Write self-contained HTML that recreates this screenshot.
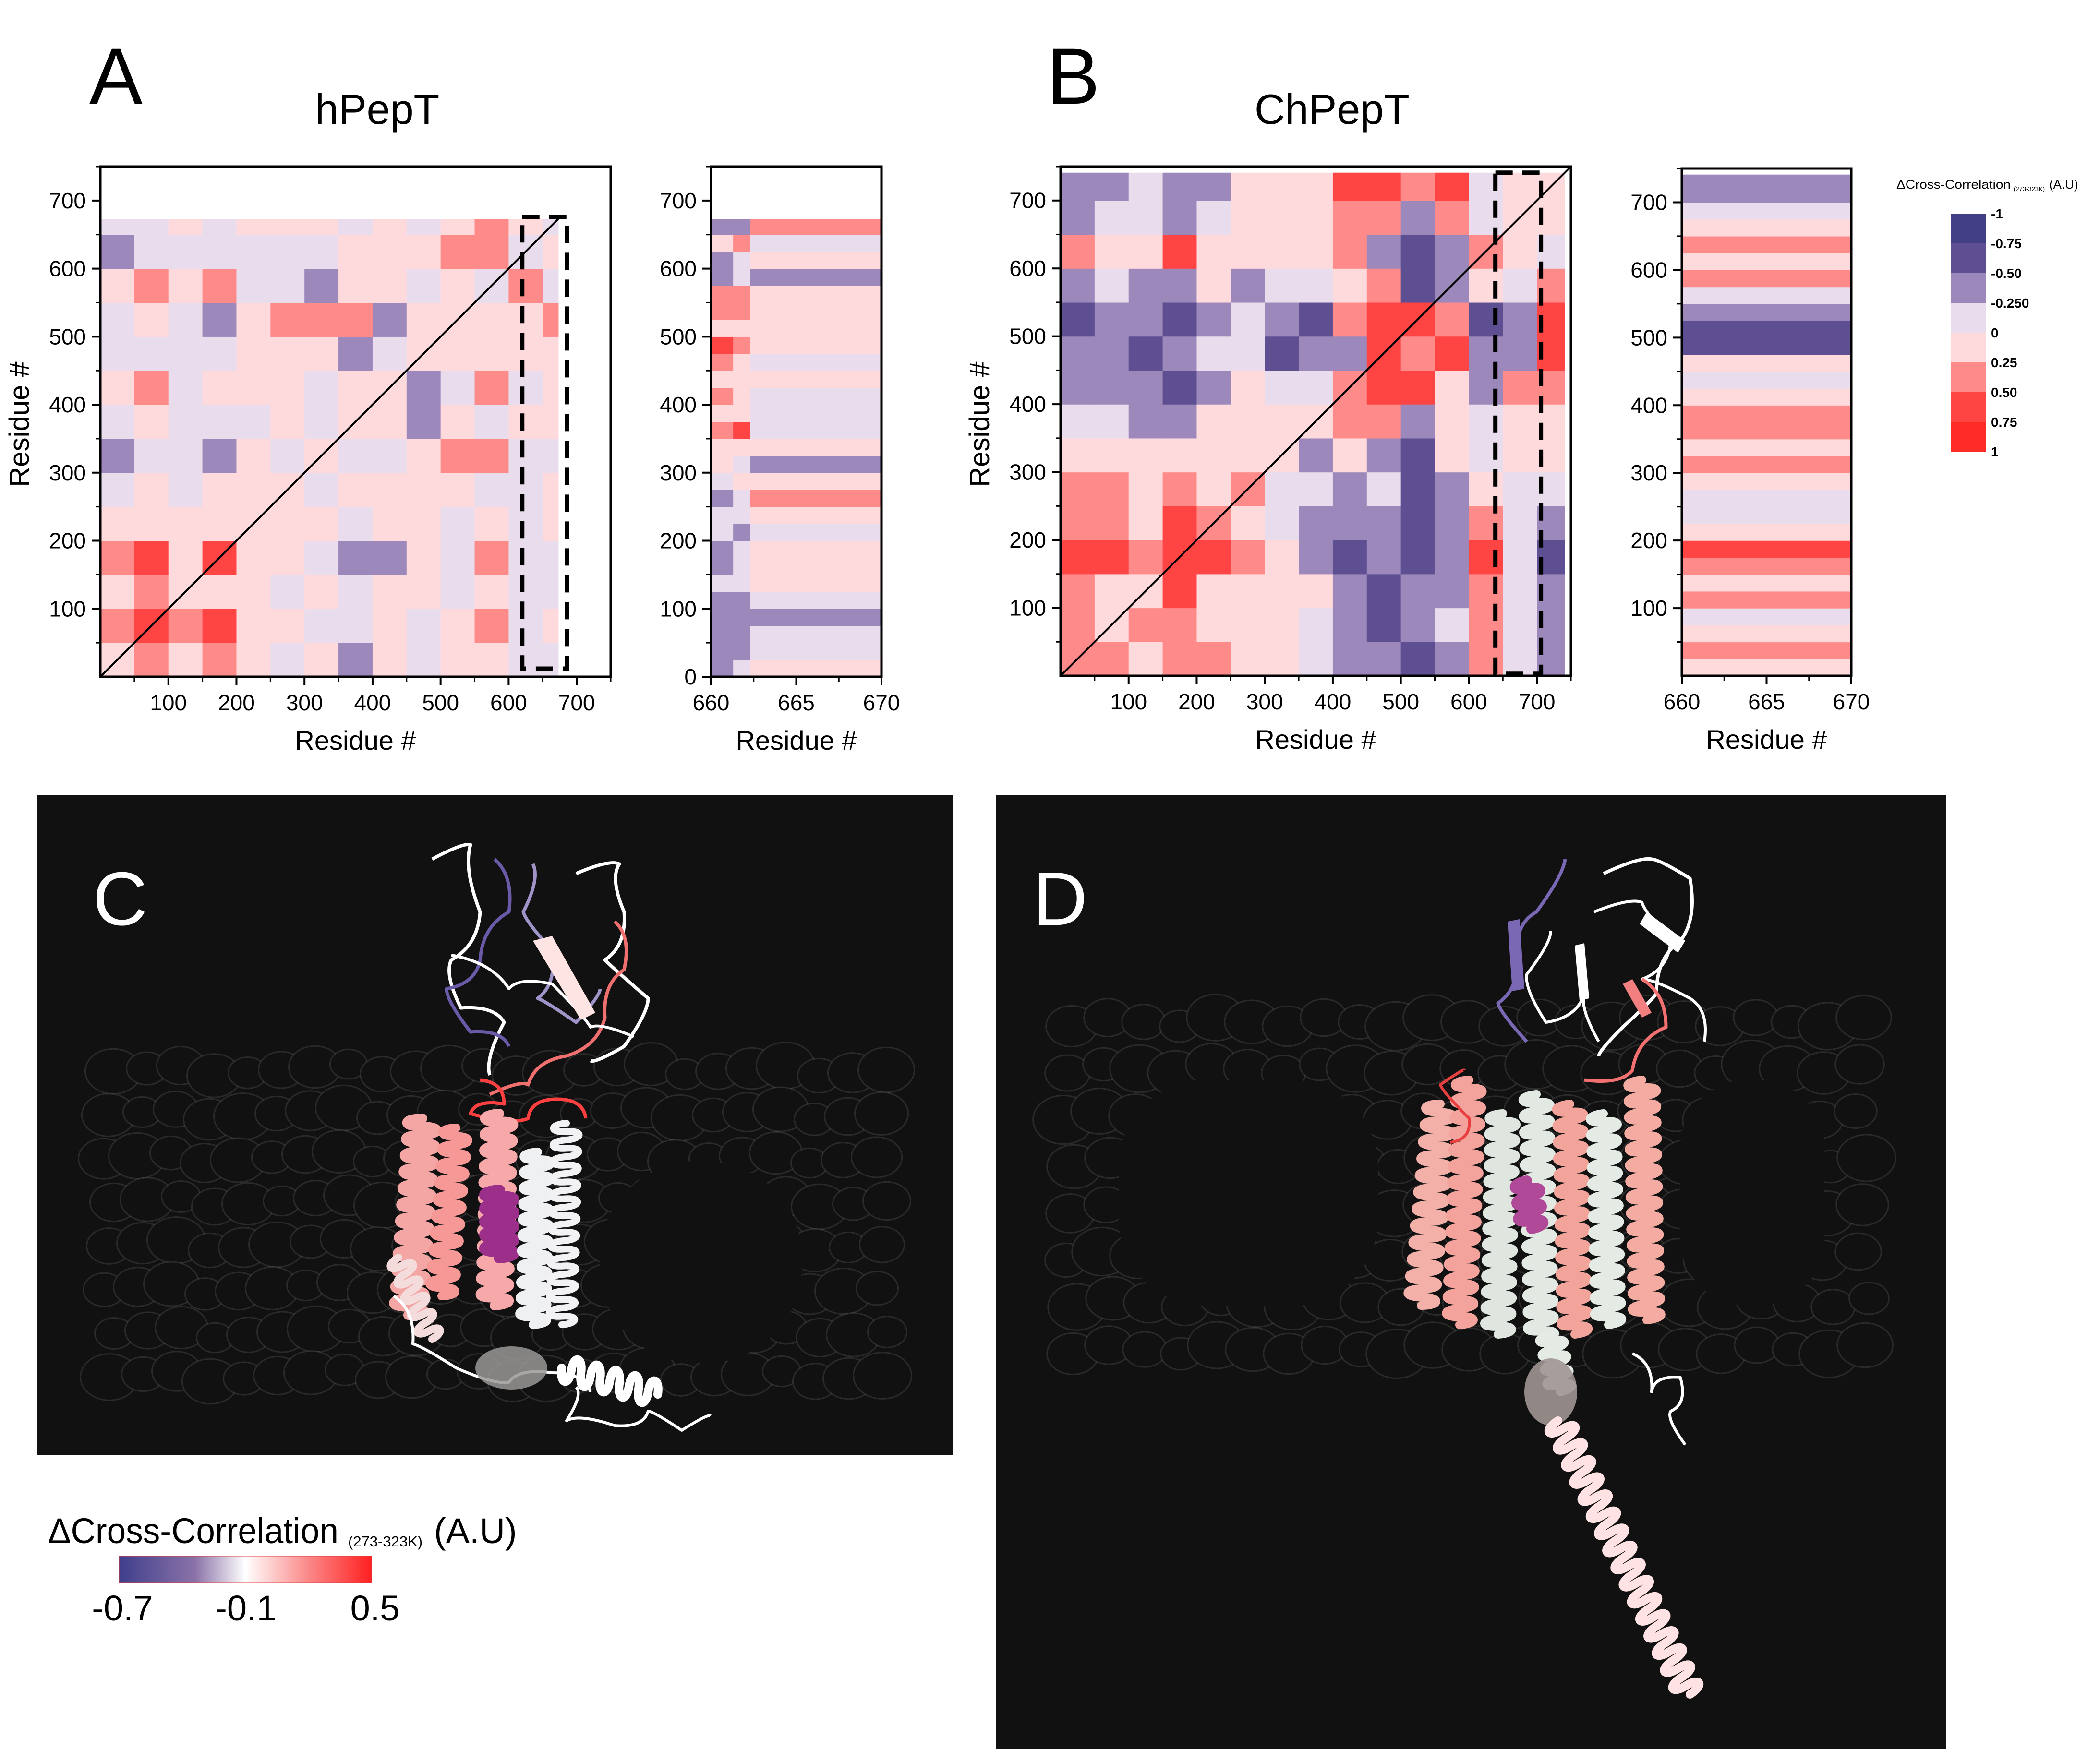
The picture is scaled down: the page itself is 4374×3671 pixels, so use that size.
<!DOCTYPE html>
<html><head><meta charset="utf-8"><style>
html,body{margin:0;padding:0;background:#fff}
svg{display:block;font-family:"Liberation Sans",Arial,sans-serif}
</style></head><body>
<svg id="fig" xmlns="http://www.w3.org/2000/svg" width="4374" height="3671" viewBox="0 0 4374 3671">
<rect x="0" y="0" width="4374" height="3671" fill="#ffffff"/>
<text x="186" y="216" font-size="166">A</text>
<text x="656" y="258" font-size="88">hPepT</text>
<text x="2180" y="216" font-size="166">B</text>
<text x="2613" y="258" font-size="88">ChPepT</text>
<g id="charts"></g>
<g id="legendTop">
<text x="3950" y="393" font-size="26" textLength="238" lengthAdjust="spacingAndGlyphs">ΔCross-Correlation</text>
<text x="4194" y="398" font-size="13">(273-323K)</text>
<text x="4268" y="393" font-size="26">(A.U)</text>
</g>
<g id="mol">
<rect x="77" y="1656" width="1908" height="1375" fill="#111111"/>
<rect x="2074" y="1656" width="1979" height="1987" fill="#111111"/>
<g id="molC"></g>
<g id="molD"></g>
<text x="193" y="1927" font-size="158" fill="#ffffff">C</text>
<text x="2151" y="1927" font-size="158" fill="#ffffff">D</text>
</g>
<defs>
<linearGradient id="grad" x1="0" x2="1" y1="0" y2="0">
<stop offset="0" stop-color="#3f3f8c"/><stop offset="0.3" stop-color="#8a72a8"/><stop offset="0.5" stop-color="#ffffff"/><stop offset="0.75" stop-color="#fb8888"/><stop offset="1" stop-color="#ff2020"/>
</linearGradient>
</defs>
<g>
<text x="100" y="3215" font-size="74" textLength="605" lengthAdjust="spacingAndGlyphs">ΔCross-Correlation</text>
<text x="725" y="3222" font-size="31">(273-323K)</text>
<text x="904" y="3215" font-size="74">(A.U)</text>
<rect x="248" y="3242" width="526" height="56" fill="url(#grad)" stroke="#e04040" stroke-width="1"/>
<text x="255" y="3376" font-size="74" text-anchor="middle">-0.7</text>
<text x="512" y="3376" font-size="74" text-anchor="middle">-0.1</text>
<text x="781" y="3376" font-size="74" text-anchor="middle">0.5</text>
</g>
</svg>
<script>
// ---- data ----
const binSize = 50;
const hMax = 673;
const cMax = 741;
const hMatrix = [
[0.1,0.3,0.1,0.3,0.1,-0.1,0.1,-0.35,0.1,-0.1,0.1,0.1,-0.1,-0.1],
[0.3,0.6,0.3,0.6,0.1,0.1,-0.1,-0.1,0.1,-0.1,0.1,0.3,-0.1,0.1],
[0.1,0.3,0.1,0.1,0.1,-0.1,0.1,-0.1,0.1,0.1,-0.1,0.1,-0.1,-0.1],
[0.3,0.6,0.1,0.6,0.1,0.1,-0.1,-0.35,-0.35,0.1,-0.1,0.3,-0.1,-0.1],
[0.1,0.1,0.1,0.1,0.1,0.1,0.1,-0.1,0.1,0.1,-0.1,0.1,-0.1,0.1],
[-0.1,0.1,-0.1,0.1,0.1,0.1,-0.1,0.1,0.1,0.1,0.1,-0.1,-0.1,0.1],
[-0.35,-0.1,-0.1,-0.35,0.1,-0.1,0.1,-0.1,-0.1,0.1,0.3,0.3,-0.1,-0.1],
[-0.1,0.1,-0.1,-0.1,-0.1,0.1,-0.1,0.1,0.1,-0.35,0.1,-0.1,0.1,0.1],
[0.1,0.3,-0.1,0.1,0.1,0.1,-0.1,0.1,0.1,-0.35,-0.1,0.3,-0.1,0.1],
[-0.1,-0.1,-0.1,-0.1,0.1,0.1,0.1,-0.35,-0.1,0.1,0.1,0.1,0.1,0.1],
[-0.1,0.1,-0.1,-0.35,0.1,0.3,0.3,0.3,-0.35,0.1,0.1,0.1,0.1,0.3],
[0.1,0.3,0.1,0.3,-0.1,-0.1,-0.35,0.1,0.1,-0.1,0.1,-0.1,0.3,-0.1],
[-0.35,-0.1,-0.1,-0.1,-0.1,-0.1,-0.1,0.1,0.1,0.1,0.3,0.3,-0.1,0.1],
[-0.1,-0.1,0.1,-0.1,0.1,0.1,0.1,-0.1,0.1,-0.1,0.1,0.3,0.1,-0.1]
];
const cMatrix = [
[0.3,0.3,0.1,0.3,0.3,0.1,0.1,-0.1,-0.35,-0.35,-0.6,-0.35,0.3,-0.1,-0.35],
[0.3,0.1,0.3,0.3,0.1,0.1,0.1,-0.1,-0.35,-0.6,-0.35,-0.1,0.3,-0.1,-0.35],
[0.3,0.1,0.1,0.6,0.1,0.1,0.1,0.1,-0.35,-0.6,-0.35,-0.35,0.3,-0.1,-0.35],
[0.6,0.6,0.3,0.6,0.6,0.3,0.1,-0.35,-0.6,-0.35,-0.6,-0.35,0.6,-0.1,-0.6],
[0.3,0.3,0.1,0.6,0.3,0.1,-0.1,-0.35,-0.35,-0.35,-0.6,-0.35,0.3,-0.1,-0.35],
[0.3,0.3,0.1,0.3,0.1,0.3,-0.1,-0.1,-0.35,-0.1,-0.6,-0.35,0.1,-0.1,-0.1],
[0.1,0.1,0.1,0.1,0.1,0.1,0.1,-0.35,0.1,-0.35,-0.6,0.1,-0.1,0.1,0.1],
[-0.1,-0.1,-0.35,-0.35,0.1,0.1,0.1,0.1,0.3,0.3,-0.35,0.1,-0.1,0.1,0.1],
[-0.35,-0.35,-0.35,-0.6,-0.35,0.1,-0.1,-0.1,0.3,0.6,0.6,0.1,-0.35,0.3,0.3],
[-0.35,-0.35,-0.6,-0.35,-0.1,-0.1,-0.6,-0.35,-0.35,0.6,0.3,0.6,-0.35,-0.35,0.6],
[-0.6,-0.35,-0.35,-0.6,-0.35,-0.1,-0.35,-0.6,0.3,0.6,0.6,0.3,-0.6,-0.35,0.6],
[-0.35,-0.1,-0.35,-0.35,0.1,-0.35,-0.1,-0.1,0.1,0.3,-0.6,-0.35,0.1,-0.1,0.3],
[0.3,0.1,0.1,0.6,0.1,0.1,0.1,0.1,0.3,-0.35,-0.6,-0.35,0.3,0.1,-0.1],
[-0.35,-0.1,-0.1,-0.35,-0.1,0.1,0.1,0.1,0.3,0.3,-0.35,0.3,-0.1,0.1,0.1],
[-0.35,-0.35,-0.1,-0.35,-0.35,0.1,0.1,0.1,0.6,0.6,0.3,0.6,-0.1,0.1,0.1]
];
const sideBin = 25;
const hSideCols = [660, 661.3, 662.3, 670];
const hSide0 = [-0.35,-0.35,-0.35,-0.35,-0.35,-0.1,-0.35,-0.35,-0.1,-0.1,-0.35,-0.1,0.1,0.1,0.3,0.1,0.3,0.1,0.3,0.6,0.1,0.3,0.3,-0.35,-0.35,0.1,-0.35];
const hSide1 = [-0.1,-0.35,-0.35,-0.35,-0.35,-0.1,-0.1,-0.1,-0.35,-0.1,-0.1,0.1,-0.1,0.1,0.6,0.1,0.1,0.1,0.1,0.3,0.1,0.3,0.3,-0.1,-0.1,0.3,-0.35];
const hSide2 = [0.1,-0.1,-0.1,-0.35,-0.1,0.1,0.1,0.1,-0.1,0.1,0.3,0.1,-0.35,0.1,-0.1,-0.1,-0.1,0.1,-0.1,0.1,0.1,0.1,0.1,-0.35,0.1,-0.1,0.3];
const cSide = [0.1,0.3,0.1,-0.1,0.3,0.1,0.3,0.6,0.1,-0.1,-0.1,0.1,0.3,0.1,0.3,0.3,0.1,-0.1,0.1,-0.6,-0.6,-0.35,-0.1,0.3,0.1,0.3,0.1,-0.1,-0.35,-0.35];
const mainTicks = [100,200,300,400,500,600,700];
const sideYTicks = [0,100,200,300,400,500,600,700];
const sideXTicks = [660,665,670];
const cbLabels = ["-1","-0.75","-0.50","-0.250","0","0.25","0.50","0.75","1"];
const cbColors = ["#433f86","#5d4f92","#9d88bb","#e9dcec","#ffdadd","#ff8a8a","#ff4444","#ff2b27"];
const hBox = [620, 686, 12, 676];
const cBox = [639, 706, 3, 741];

const NS = "http://www.w3.org/2000/svg";
function el(tag, attrs, parent){const e=document.createElementNS(NS,tag);for(const k in attrs)e.setAttribute(k,attrs[k]);parent.appendChild(e);return e;}
function scale(p0,p1,d0,d1){return v=>p0+(v-d0)/(d1-d0)*(p1-p0);}
function col(v){
  if(v<=-0.75)return "#433f86"; if(v<=-0.5)return "#5d4f92"; if(v<=-0.25)return "#9d88bb";
  if(v<0)return "#e9dcec"; if(v<0.25)return "#ffdadd"; if(v<0.5)return "#ff8a8a"; if(v<0.75)return "#ff4444"; return "#ff2b27";
}
const charts = document.getElementById('charts');

function axes(g, X, Y, xd, yd, xt, yt, xminor, yminor, name){
  const x0=X(xd[0]), x1=X(xd[1]), y0=Y(yd[0]), y1=Y(yd[1]);
  const frame = el('rect',{x:x0,y:y1,width:x1-x0,height:y0-y1,fill:'none',stroke:'#000','stroke-width':5},g);
  
  
  xt.forEach(t=>{
    const l=el('line',{x1:X(t),x2:X(t),y1:y0,y2:y0+18,stroke:'#000','stroke-width':4},g);
    
    
    const tx=el('text',{x:X(t),y:y0+70,'font-size':46,'text-anchor':'middle'},g);
    tx.textContent=t;
    
    
  });
  xminor.forEach(t=>{
    const l=el('line',{x1:X(t),x2:X(t),y1:y0,y2:y0+10,stroke:'#000','stroke-width':3},g);
    
    
  });
  yt.forEach(t=>{
    const l=el('line',{x1:x0-18,x2:x0,y1:Y(t),y2:Y(t),stroke:'#000','stroke-width':4},g);
    
    
    const tx=el('text',{x:x0-30,y:Y(t)+16,'font-size':46,'text-anchor':'end'},g);
    tx.textContent=t;
    
    
  });
  yminor.forEach(t=>{
    const l=el('line',{x1:x0-10,x2:x0,y1:Y(t),y2:Y(t),stroke:'#000','stroke-width':3},g);
    
    
  });
  const xl=el('text',{x:(x0+x1)/2,y:y0+152,'font-size':56,'text-anchor':'middle'},g);
  xl.textContent='Residue #';
  
  
}
function ylabel(g,x,y,name){
  const t=el('text',{x:x,y:y,'font-size':58,'text-anchor':'middle',transform:`rotate(-90 ${x} ${y})`},g);
  t.textContent='Residue #';
  
  
}
function heat(g,X,Y,M,maxR,name){
  M.forEach((row,i)=>row.forEach((v,j)=>{
    const a=j*binSize,b=Math.min((j+1)*binSize,maxR),c=i*binSize,d=Math.min((i+1)*binSize,maxR);
    const r=el('rect',{x:X(a),y:Y(d),width:X(b)-X(a)+0.6,height:Y(c)-Y(d)+0.6,fill:col(v)},g);
    
    
  }));
}
function sideHeat(g,X,Y,cols,series,maxR,name){
  series.forEach((s,k)=>s.forEach((v,i)=>{
    const c=i*sideBin,d=Math.min((i+1)*sideBin,maxR);
    const r=el('rect',{x:X(cols[k]),y:Y(d),width:X(cols[k+1])-X(cols[k])+0.6,height:Y(c)-Y(d)+0.6,fill:col(v)},g);
    
    
  }));
}
const minorMain=[50,150,250,350,450,550,650,750];
const minorY=[50,150,250,350,450,550,650,750];

{
  const g=el('g',{},charts);
  
  
  const X=scale(209,1272,0,750), Y=scale(1410,347,0,750);
  heat(g,X,Y,hMatrix,hMax,'hpept');
  const dl=el('line',{x1:X(0),y1:Y(0),x2:X(hMax),y2:Y(hMax),stroke:'#000','stroke-width':4},g);
  
  
  const bx=el('rect',{x:X(hBox[0]),y:Y(hBox[3]),width:X(hBox[1])-X(hBox[0]),height:Y(hBox[2])-Y(hBox[3]),fill:'none',stroke:'#000','stroke-width':9,'stroke-dasharray':'36 20'},g);
  
  
  axes(g,X,Y,[0,750],[0,750],mainTicks,mainTicks,minorMain,minorY,'hpept');
  ylabel(g,60,884,'hpept');
}
{
  const g=el('g',{},charts);
  
  
  const X=scale(1481,1836,660,670), Y=scale(1410,347,0,750);
  sideHeat(g,X,Y,hSideCols,[hSide0,hSide1,hSide2],hMax,'hpept-side');
  axes(g,X,Y,[660,670],[0,750],sideXTicks,sideYTicks,[662.5,667.5],minorY,'hpept-side');
}
{
  const g=el('g',{},charts);
  
  
  const X=scale(2209,3272,0,750), Y=scale(1408,347,0,750);
  heat(g,X,Y,cMatrix,cMax,'chpept');
  const dl=el('line',{x1:X(0),y1:Y(0),x2:X(750),y2:Y(750),stroke:'#000','stroke-width':4},g);
  
  
  const bx=el('rect',{x:X(cBox[0]),y:Y(cBox[3]),width:X(cBox[1])-X(cBox[0]),height:Y(cBox[2])-Y(cBox[3]),fill:'none',stroke:'#000','stroke-width':9,'stroke-dasharray':'36 20'},g);
  
  
  axes(g,X,Y,[0,750],[0,750],mainTicks,mainTicks,minorMain,minorY,'chpept');
  ylabel(g,2060,884,'chpept');
}
{
  const g=el('g',{},charts);
  
  
  const X=scale(3503,3856,660,670), Y=scale(1408,351,0,750);
  sideHeat(g,X,Y,[660,670],[cSide],cMax,'chpept-side');
  axes(g,X,Y,[660,670],[0,750],sideXTicks,mainTicks,[662.5,667.5],minorY,'chpept-side');
}
{
  const g=document.getElementById('legendTop');
  const top=445, h=62;
  cbColors.forEach((c,i)=>{
    const r=el('rect',{x:4064,y:top+i*h,width:72,height:h+0.5,fill:c},g);
    
    
  });
  cbLabels.forEach((t,i)=>{
    const tx=el('text',{x:4147,y:top+i*h+10,'font-size':28,'font-weight':'bold'},g);
    tx.textContent=t;
    
    
  });
}

// ---- decorative molecular renders ----
function blobs(g,x0,x1,y0,y1,step){
  for(let x=x0;x<=x1;x+=step){
    for(let y=y0;y<=y1;y+=step*1.3){
      const r=step*0.55+((x*7+y*3)%23);
      const c=el('ellipse',{cx:x+((y*5)%31)-15,cy:y+((x*3)%27)-13,rx:r,ry:r*0.8,fill:'#111111',stroke:'rgba(220,220,220,0.13)','stroke-width':3},g);
      
      
    }
  }
}
function helix(g,xa,ya,xb,yb,w,turn,color,width){
  const n=Math.max(2,Math.round(Math.hypot(xb-xa,yb-ya)/turn));
  const dx=(xb-xa)/n, dy=(yb-ya)/n, L=Math.hypot(dx,dy), nx=-dy/L, ny=dx/L;
  let d=`M${xa} ${ya}`;
  for(let i=0;i<n;i++){
    const sx=xa+dx*i, sy=ya+dy*i;
    d+=` C${sx+nx*w+dx*0.1} ${sy+ny*w+dy*0.1} ${sx+nx*w+dx*0.6} ${sy+ny*w+dy*0.6} ${sx+dx*0.5} ${sy+dy*0.5}`;
    d+=` C${sx-nx*w+dx*0.4} ${sy-ny*w+dy*0.4} ${sx-nx*w+dx*0.9} ${sy-ny*w+dy*0.9} ${sx+dx} ${sy+dy}`;
  }
  const p=el('path',{d:d,fill:'none',stroke:color,'stroke-width':width,'stroke-linecap':'round'},g);
  
  
}
function loop(g,pts,color,width){
  let d=`M${pts[0][0]} ${pts[0][1]}`;
  for(let i=1;i<pts.length;i++){const [x,y]=pts[i],[px,py]=pts[i-1];d+=` Q${(px+x)/2+((i%2)?25:-25)} ${(py+y)/2+((i%3)?-20:20)} ${x} ${y}`;}
  const p=el('path',{d:d,fill:'none',stroke:color,'stroke-width':width,'stroke-linejoin':'round'},g);
  
  
}
{
  const g=document.getElementById('molC');
  blobs(g,230,1880,2230,2880,70);
  const mask=el('rect',{x:1250,y:2420,width:420,height:420,rx:200,fill:'#111'},g);
  
  
  loop(g,[[900,1790],[980,1760],[1000,1900],[940,2000],[960,2100],[1050,2130],[1020,2240]],'#ffffff',7);
  loop(g,[[1030,1790],[1060,1900],[1000,2000],[930,2060],[980,2150],[1060,2180]],'#6a5aa8',7);
  loop(g,[[1110,1800],[1090,1900],[1150,1980],[1120,2080],[1200,2130],[1250,2060]],'#a093c8',7);
  loop(g,[[1200,1820],[1290,1800],[1300,1900],[1260,2000],[1350,2080],[1300,2180],[1230,2210]],'#ffffff',7);
  loop(g,[[1280,1920],[1300,2020],[1260,2120],[1180,2200],[1100,2260],[1020,2280]],'#f07070',7);
  loop(g,[[940,1990],[1060,2060],[1150,2050],[1230,2140],[1320,2160]],'#ffffff',6);
  const arrow=el('path',{d:'M1110 1960 L1150 1950 L1240 2110 L1210 2125 Z',fill:'#ffe4e4'},g);
  
  
  loop(g,[[1000,2250],[1050,2300],[980,2320],[1100,2330],[1160,2290],[1220,2330]],'#ff4040',7);
  helix(g,880,2330,850,2740,42,34,'#f4a6a4',20);
  helix(g,950,2350,920,2700,36,34,'#f69896',18);
  helix(g,1040,2320,1030,2720,40,34,'#f7a8a8',20);
  helix(g,1040,2480,1040,2620,40,30,'#9b2f8a',24);
  helix(g,1120,2400,1110,2760,38,34,'#eef0f2',18);
  helix(g,1180,2340,1170,2760,36,34,'#f2f2f4',14);
  helix(g,830,2620,900,2790,30,34,'#f4dcdc',16);
  loop(g,[[820,2700],[860,2800],[950,2850],[1060,2880],[1150,2860],[1230,2900]],'#ffffff',6);
  const gb=el('ellipse',{cx:1065,cy:2850,rx:75,ry:45,fill:'#9a9896',opacity:0.85},g);
  
  
  helix(g,1170,2850,1370,2905,34,38,'#ffffff',18);
  loop(g,[[1200,2890],[1180,2960],[1280,2970],[1350,2940],[1420,2980],[1480,2950]],'#ffffff',6);
}
{
  const g=document.getElementById('molD');
  blobs(g,2230,3930,2130,2840,75);
  const m1=el('rect',{x:2330,y:2250,width:540,height:470,rx:180,fill:'#111'},g);
  
  
  const m2=el('rect',{x:3500,y:2250,width:300,height:470,rx:140,fill:'#111'},g);
  
  
  loop(g,[[3260,1790],[3200,1900],[3160,1990],[3120,2090],[3180,2170]],'#7a68b4',7);
  loop(g,[[3230,1940],[3180,2030],[3220,2130],[3300,2070],[3330,2170]],'#ffffff',6);
  loop(g,[[3340,1820],[3440,1790],[3520,1830],[3500,1960],[3450,2070],[3380,2140],[3330,2200]],'#ffffff',7);
  loop(g,[[3320,1900],[3420,1880],[3480,1960],[3420,2040],[3520,2080],[3550,2170]],'#ffffff',6);
  loop(g,[[3420,2040],[3470,2140],[3400,2230],[3300,2250]],'#f27070',7);
  const s1=el('path',{d:'M3140 1920 L3165 1915 L3175 2060 L3150 2065 Z',fill:'#7a68b4'},g);
  
  
  const s2=el('path',{d:'M3280 1970 L3300 1965 L3310 2080 L3290 2085 Z',fill:'#ffffff'},g);
  
  
  const s3=el('path',{d:'M3430 1900 L3510 1960 L3495 1985 L3415 1925 Z',fill:'#ffffff'},g);
  
  
  const s4=el('path',{d:'M3400 2040 L3440 2110 L3420 2120 L3380 2050 Z',fill:'#f28080'},g);
  
  
  helix(g,3000,2300,2960,2720,40,34,'#f2b0a8',18);
  helix(g,3060,2250,3040,2760,38,34,'#f4a39c',18);
  helix(g,3130,2320,3120,2780,38,34,'#dfe6df',18);
  helix(g,3200,2280,3210,2790,38,34,'#e2e9e2',18);
  helix(g,3270,2300,3280,2780,38,34,'#f2a49a',18);
  helix(g,3340,2320,3350,2760,38,34,'#e4eae4',18);
  helix(g,3420,2250,3430,2750,40,34,'#f4aca2',18);
  helix(g,3180,2460,3190,2560,34,30,'#b04a98',22);
  loop(g,[[3050,2230],[3000,2260],[3060,2330],[3020,2380]],'#e84040',6);
  helix(g,3230,2780,3250,2900,34,30,'#e4ebe4',18);
  const gb=el('ellipse',{cx:3230,cy:2900,rx:55,ry:70,fill:'#a09692',opacity:0.9},g);
  
  
  helix(g,3245,2960,3520,3530,36,40,'#ffe2e4',18);
  loop(g,[[3400,2820],[3440,2900],[3500,2870],[3480,2940],[3510,3010]],'#ffffff',6);
}
</script>
</body></html>
